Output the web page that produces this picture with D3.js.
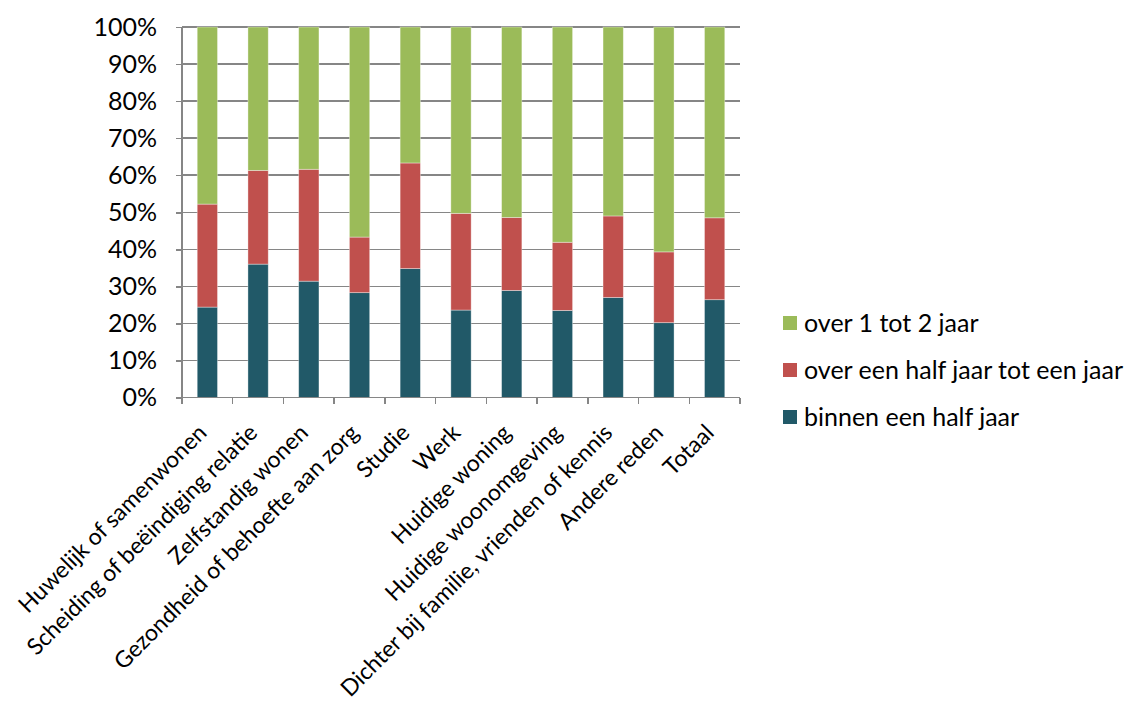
<!DOCTYPE html>
<html>
<head>
<meta charset="utf-8">
<title>Verhuisreden</title>
<style>
  body { margin: 0; background: #fff; font-family: Lato, "Open Sans", sans-serif; }
  .axis path, .axis line { stroke: #868686; stroke-width: 1.5; shape-rendering: crispEdges; }
  .axis text { font-family: Lato, sans-serif; font-size: 25px; fill: #000; }
  .axis text.cat { font-size: 23px; }
  .grid line { stroke: #868686; stroke-width: 1.5; shape-rendering: crispEdges; }
  .legend text { font-family: Lato, sans-serif; font-size: 25px; fill: #000; }
</style>
</head>
<body>
<svg id="chart" width="1127" height="716"></svg>
<script src="https://cdnjs.cloudflare.com/ajax/libs/d3/7.8.5/d3.min.js"></script>
<script>
// categorieën en waarden (aandeel, %)
var categories = ["Huwelijk of samenwonen", "Scheiding of beëindiging relatie", "Zelfstandig wonen",
  "Gezondheid of behoefte aan zorg", "Studie", "Werk", "Huidige woning", "Huidige woonomgeving",
  "Dichter bij familie, vrienden of kennis", "Andere reden", "Totaal"];
var binnenHalfJaar = [24.4, 36.0, 31.4, 28.3, 34.8, 23.6, 28.9, 23.5, 27.0, 20.2, 26.4];
var halfTotEenJaar = [27.8, 25.3, 30.2, 15.0, 28.5, 26.1, 19.7, 18.4, 22.0, 19.1, 22.1];
var eenTotTweeJaar = [47.8, 38.7, 38.4, 56.7, 36.7, 50.3, 51.4, 58.1, 51.0, 60.7, 51.5];
var seriesNames = ["binnen een half jaar", "over een half jaar tot een jaar", "over 1 tot 2 jaar"];
var seriesColors = ["#215968", "#C0504D", "#9BBB59"];
var yTicks = [0, 10, 20, 30, 40, 50, 60, 70, 80, 90, 100];

var rows = categories.map(function(c, i) {
  return { cat: c, s0: binnenHalfJaar[i], s1: halfTotEenJaar[i], s2: eenTotTweeJaar[i] };
});
var stack = d3.stack().keys(["s0", "s1", "s2"])(rows);

var plotLeft = 182, plotRight = 740, plotTop = 27, plotBottom = 397.5;
var svg = d3.select("#chart");

var x = d3.scaleBand().domain(categories).range([plotLeft, plotRight]).paddingInner(0.6).paddingOuter(0.3);
var y = d3.scaleLinear().domain([0, 100]).range([plotBottom, plotTop]);

// rasterlijnen
svg.append("g").attr("class", "grid")
  .selectAll("line").data(yTicks.slice(1)).enter().append("line")
  .attr("x1", plotLeft).attr("x2", plotRight)
  .attr("y1", function(d) { return y(d); }).attr("y2", function(d) { return y(d); });

// balken
svg.append("g").selectAll("g").data(stack).enter().append("g")
  .attr("fill", function(d, i) { return seriesColors[i]; })
  .selectAll("rect").data(function(d) { return d; }).enter().append("rect")
  .attr("x", function(d) { return x(d.data.cat); })
  .attr("width", x.bandwidth())
  .attr("y", function(d) { return y(d[1]); })
  .attr("height", function(d) { return y(d[0]) - y(d[1]); })
  .attr("stroke", "rgba(255,255,255,0.45)").attr("stroke-width", 0.8);

// y-as
var yAxis = svg.append("g").attr("class", "axis")
  .attr("transform", "translate(" + plotLeft + ",0)")
  .call(d3.axisLeft(y).tickValues(yTicks).tickSize(6).tickPadding(19)
    .tickFormat(function(d) { return d + "%"; }));
yAxis.select(".domain").attr("d", "M0," + plotTop + "V" + plotBottom);

// x-as met scheidingsstreepjes
var xAxis = svg.append("g").attr("class", "axis")
  .attr("transform", "translate(0," + plotBottom + ")");
xAxis.append("line").attr("x1", plotLeft).attr("x2", plotRight).attr("y1", 0).attr("y2", 0);
xAxis.selectAll("line.tick").data(d3.range(categories.length + 1)).enter().append("line")
  .attr("class", "tick")
  .attr("x1", function(i) { return plotLeft + i * (plotRight - plotLeft) / categories.length; })
  .attr("x2", function(i) { return plotLeft + i * (plotRight - plotLeft) / categories.length; })
  .attr("y1", 0).attr("y2", 6);

xAxis.selectAll("text").data(categories).enter().append("text")
  .attr("class", "cat")
  .attr("text-anchor", "end")
  .attr("transform", function(d) {
    return "translate(" + (x(d) + x.bandwidth() / 2 - 5) + ",31) rotate(-45)";
  })
  .attr("dy", "0.35em")
  .text(function(d) { return d; });

// legenda
var legendItems = [2, 1, 0];
var legend = svg.append("g").attr("class", "legend");
legendItems.forEach(function(s, i) {
  var ly = 323 + i * 47;
  legend.append("rect").attr("x", 783).attr("y", ly - 7).attr("width", 14).attr("height", 14)
    .attr("fill", seriesColors[s]);
  legend.append("text").attr("x", 804).attr("y", ly).attr("dy", "0.35em").text(seriesNames[s]);
});
</script>
</body>
</html>
